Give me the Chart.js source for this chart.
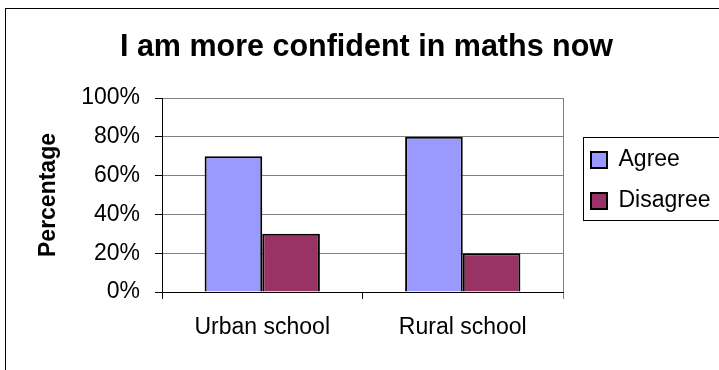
<!DOCTYPE html>
<html>
<head>
<meta charset="utf-8">
<script src="https://cdn.jsdelivr.net/npm/chart.js@4.4.0/dist/chart.umd.min.js"></script>
<style>
  html, body { margin: 0; padding: 0; background: #fff; overflow: hidden; }
  #frame { position: absolute; left: 5px; top: 8px; width: 800px; height: 500px; border: 1px solid #000; }
  #myChart { position: absolute; left: 0; top: 0; }
</style>
</head>
<body>
<div id="frame"></div>
<canvas id="myChart" width="719" height="370"></canvas>
<script>
// data
const categories = ["Urban school", "Rural school"];
const agree = [70, 80];
const disagree = [30, 20];
const yTicks = [0, 20, 40, 60, 80, 100];

Chart.defaults.font.family = "'Liberation Sans', Arial, sans-serif";
Chart.defaults.color = "#000";

// legend sits right of the plot, inside a box that runs off the page
const legendSpot = {
  id: "legendSpot",
  beforeUpdate(chart) {
    let lg = chart.legend;
    if (lg && !lg._patched) {
      let fit = lg.fit;
      lg.fit = function () {
        fit.call(this);
        this.width = 156;
      };
      lg._patched = true;
    }
  },
  afterLayout(chart) {
    let lg = chart.legend;
    let a = chart.chartArea;
    lg.left = a.right + 10;
    lg.right = chart.width;
    lg.top = a.top + 32.5;
    lg.bottom = lg.top + 120;
  },
  afterDraw(chart) {
    let lg = chart.legend;
    let ctx = chart.ctx;
    ctx.save();
    ctx.strokeStyle = "#000";
    ctx.lineWidth = 1;
    ctx.strokeRect(Math.round(lg.left + 10) + 0.5, Math.round(lg.top + 6) + 0.5, 300, 83);
    ctx.restore();
  },
};

const ctx = document.getElementById("myChart");

new Chart(ctx, {
  type: "bar",
  data: {
    labels: categories,
    datasets: [
      {
        label: "Agree",
        data: agree,
        backgroundColor: "#9999FF",
        borderColor: "#000",
        borderWidth: 2,
      },
      {
        label: "Disagree",
        data: disagree,
        backgroundColor: "#993366",
        borderColor: "#000",
        borderWidth: 2,
      },
    ],
  },
  options: {
    responsive: false,
    animation: false,
    categoryPercentage: 0.575,
    barPercentage: 1,
    layout: { padding: { left: 14, right: 0, top: 0, bottom: 0 } },
    plugins: {
      title: {
        display: true,
        text: "I am more confident in maths now",
        font: { size: 30.5, weight: "bold" },
        padding: { top: 29, bottom: 32.4 },
      },
      legend: {
        position: "right",
        align: "start",
        fullSize: false,
        labels: {
          boxWidth: 16,
          boxHeight: 16,
          padding: 18,
          font: { size: 23 },
        },
      },
      tooltip: { enabled: false },
    },
    scales: {
      x: {
        afterFit: (s) => {
          s.height = 78;
        },
        grid: {
          offset: true,
          tickLength: 7,
          color: (c) => (c.type === "tick" ? "rgba(0,0,0,0)" : "#808080"),
          tickColor: (c) => (c.type === "tick" ? "#000" : "#808080"),
        },
        border: { color: "#000", width: 1 },
        ticks: { font: { size: 23 }, padding: 15 },
      },
      y: {
        min: 0,
        max: 100,
        afterBuildTicks: (s) => {
          s.ticks = yTicks.map((v) => ({ value: v }));
        },
        afterFit: (s) => {
          s.width = 148;
        },
        grid: { color: "#808080", tickColor: "#000", tickLength: 7 },
        border: { color: "#000", width: 1 },
        ticks: {
          font: { size: 23 },
          padding: 15,
          callback: (v) => v + "%",
        },
        title: {
          display: true,
          text: "Percentage",
          font: { size: 23, weight: "bold" },
          padding: { top: 21, bottom: 0 },
        },
      },
    },
  },
  plugins: [legendSpot],
});
</script>
</body>
</html>
